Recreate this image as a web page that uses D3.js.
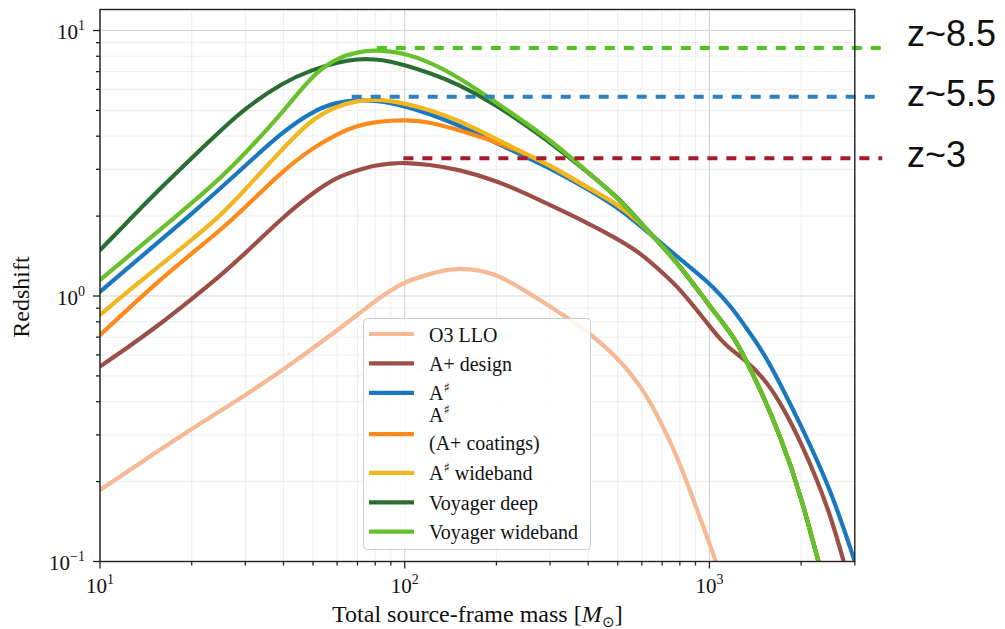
<!DOCTYPE html>
<html>
  <head>
    <meta charset="utf-8">
    <style>
      body { margin: 0; background: white; }
      svg { display: block; }
      .serif { font-family: "Liberation Serif", "Times New Roman", serif; fill: #111; }
      .sans { font-family: "Liberation Sans", Arial, sans-serif; fill: #111; }
    </style>
  </head>
  <body>
    <script src="https://cdn.jsdelivr.net/npm/d3@7"></script>
    <script>
      // total source-frame mass grid, shared by every curve
      var masses = [10, 12, 15, 20, 25, 30, 40, 50, 60, 70, 80, 90, 100, 120, 150, 200, 250, 300, 400, 500,
                    600, 700, 800, 1000, 1100, 1200, 1300, 1500, 1700, 2000, 2500, 3000];

      // redshift horizon per detector
      var o3LLO = [0.186, 0.214, 0.254, 0.316, 0.371, 0.423, 0.528, 0.636, 0.742, 0.850, 0.958, 1.05, 1.13, 1.21, 1.29, 1.22, 1.04, 0.916, 0.734, 0.586,
                   0.455, 0.329, 0.236, 0.117, 0.086, 0.062, null, null, null, null, null, null];
      var aPlusDesign = [0.542, 0.627, 0.751, 0.974, 1.20, 1.45, 1.99, 2.45, 2.81, 2.98, 3.11, 3.16, 3.18, 3.13, 3.00, 2.72, 2.43, 2.20, 1.88, 1.64,
                         1.44, 1.225, 1.067, 0.771, 0.674, 0.617, 0.579, 0.495, 0.402, 0.282, 0.154, 0.07];
      var aSharp = [1.038, 1.24, 1.543, 2.04, 2.56, 3.10, 4.18, 4.98, 5.38, 5.47, 5.45, 5.33, 5.19, 4.87, 4.41, 3.77, 3.34, 3.03, 2.53, 2.16,
                    1.82, 1.57, 1.38, 1.12, 0.993, 0.886, 0.778, 0.617, 0.471, 0.325, 0.1875, 0.10];
      var aSharpCoatings = [0.713, 0.865, 1.097, 1.448, 1.78, 2.16, 2.98, 3.62, 4.08, 4.39, 4.52, 4.58, 4.60, 4.54, 4.22, 3.80, 3.43, 3.11, 2.55, 2.22,
                            1.87, 1.54, 1.30, 0.92, 0.80, 0.70, 0.594, 0.422, 0.30, 0.18, 0.065, 0.04];
      var aSharpWideband = [0.848, 1.013, 1.248, 1.627, 2.02, 2.52, 3.62, 4.68, 5.19, 5.44, 5.50, 5.43, 5.31, 5.04, 4.60, 3.90, 3.43, 3.11, 2.55, 2.22,
                            1.87, 1.54, 1.30, 0.92, 0.80, 0.70, 0.594, 0.422, 0.30, 0.18, 0.065, 0.04];
      var voyagerDeep = [1.49, 1.844, 2.405, 3.31, 4.22, 5.10, 6.40, 7.13, 7.59, 7.82, 7.80, 7.64, 7.41, 6.95, 6.29, 5.24, 4.39, 3.79, 2.92, 2.36,
                         1.87, 1.54, 1.30, 0.92, 0.80, 0.70, 0.594, 0.422, 0.30, 0.18, 0.065, 0.04];
      var voyagerWideband = [1.149, 1.369, 1.696, 2.236, 2.80, 3.45, 4.95, 6.85, 7.88, 8.30, 8.45, 8.33, 8.19, 7.64, 6.68, 5.36, 4.48, 3.87, 2.93, 2.34,
                             1.87, 1.54, 1.30, 0.92, 0.80, 0.70, 0.594, 0.422, 0.30, 0.18, 0.065, 0.04];

      var seriesNames = [["O3 LLO"], ["A+ design"], ["A♯"], ["A♯", "(A+ coatings)"], ["A♯ wideband"], ["Voyager deep"], ["Voyager wideband"]];
      var seriesValues = [o3LLO, aPlusDesign, aSharp, aSharpCoatings, aSharpWideband, voyagerDeep, voyagerWideband];
      var seriesColors = ["#f7b993", "#9c4f47", "#1a78c0", "#fd8a1a", "#f0b71e", "#2b6e33", "#67c12c"];

      // peak redshift markers
      var peakZ = [8.6, 5.63, 3.3];
      var peakFrom = [81, 67, 99];
      var peakTo = 3690;
      var peakLabels = ["z~8.5", "z~5.5", "z~3"];
      var peakColors = ["#4fc41f", "#2d80c0", "#a8192e"];
      var peakLabelDy = [-2, 9, 9];

      var width = 1005, height = 629;
      var plot = { left: 100, right: 854.8, top: 9.5, bottom: 561.5 };

      var svg = d3.select("body")
        .append("svg")
        .attr("width", width)
        .attr("height", height);

      var x = d3.scaleLog().domain([10, 3000]).range([plot.left, plot.right]);
      var y = d3.scaleLog().domain([0.1, 12]).range([plot.bottom, plot.top]);

      var xMajor = [10, 100, 1000], yMajor = [0.1, 1, 10];
      var xMinor = [], yMinor = [];
      xMajor.forEach(function(d) { for (var k = 2; k <= 9; k++) if (d * k <= 3000) xMinor.push(d * k); });
      yMajor.forEach(function(d) { for (var k = 2; k <= 9; k++) if (d * k <= 12) yMinor.push(d * k); });

      // grid
      var grid = svg.append("g");
      grid.selectAll(".gx").data(xMinor).enter().append("line")
        .attr("x1", function(d) { return x(d); }).attr("x2", function(d) { return x(d); })
        .attr("y1", plot.top).attr("y2", plot.bottom)
        .attr("stroke", "#eeeeee").attr("stroke-width", 1);
      grid.selectAll(".gy").data(yMinor).enter().append("line")
        .attr("y1", function(d) { return y(d); }).attr("y2", function(d) { return y(d); })
        .attr("x1", plot.left).attr("x2", plot.right)
        .attr("stroke", "#eeeeee").attr("stroke-width", 1);
      grid.selectAll(".gX").data(xMajor).enter().append("line")
        .attr("x1", function(d) { return x(d); }).attr("x2", function(d) { return x(d); })
        .attr("y1", plot.top).attr("y2", plot.bottom)
        .attr("stroke", "#d4d4d4").attr("stroke-width", 1.2);
      grid.selectAll(".gY").data(yMajor).enter().append("line")
        .attr("y1", function(d) { return y(d); }).attr("y2", function(d) { return y(d); })
        .attr("x1", plot.left).attr("x2", plot.right)
        .attr("stroke", "#d4d4d4").attr("stroke-width", 1.2);

      svg.append("clipPath").attr("id", "clip")
        .append("rect")
        .attr("x", plot.left).attr("y", plot.top)
        .attr("width", plot.right - plot.left).attr("height", plot.bottom - plot.top);

      var line = d3.line()
        .defined(function(d) { return d[1] != null; })
        .x(function(d) { return x(d[0]); })
        .y(function(d) { return y(d[1]); })
        .curve(d3.curveBasis);

      svg.append("g")
        .attr("clip-path", "url(#clip)")
        .selectAll("path")
        .data(seriesValues)
        .enter()
        .append("path")
        .attr("d", function(vals) { return line(masses.map(function(m, i) { return [m, vals[i]]; })); })
        .attr("fill", "none")
        .attr("stroke", function(d, i) { return seriesColors[i]; })
        .attr("stroke-width", 4.2)
        .attr("stroke-linecap", "round");

      // dashed peak markers, they run out past the frame
      svg.append("g")
        .selectAll("line")
        .data(peakZ)
        .enter()
        .append("line")
        .attr("x1", function(d, i) { return x(peakFrom[i]); })
        .attr("x2", x(peakTo))
        .attr("y1", function(d) { return y(d); })
        .attr("y2", function(d) { return y(d); })
        .attr("stroke", function(d, i) { return peakColors[i]; })
        .attr("stroke-width", 4)
        .attr("stroke-dasharray", "10,9");

      svg.append("g")
        .selectAll("text")
        .data(peakZ)
        .enter()
        .append("text")
        .attr("class", "sans")
        .attr("x", 907)
        .attr("y", function(d, i) { return y(d) + peakLabelDy[i]; })
        .style("font-size", "36px")
        .text(function(d, i) { return peakLabels[i]; });

      // frame
      svg.append("rect")
        .attr("x", plot.left).attr("y", plot.top)
        .attr("width", plot.right - plot.left).attr("height", plot.bottom - plot.top)
        .attr("fill", "none").attr("stroke", "#222").attr("stroke-width", 1.4);

      // ticks
      var ticks = svg.append("g").attr("stroke", "#222").attr("stroke-width", 1.3);
      ticks.selectAll(".tx").data(xMajor.concat(xMinor)).enter().append("line")
        .attr("x1", function(d) { return x(d); }).attr("x2", function(d) { return x(d); })
        .attr("y1", plot.bottom)
        .attr("y2", function(d) { return plot.bottom + (xMajor.indexOf(d) >= 0 ? 7 : 4); });
      ticks.selectAll(".ty").data(yMajor.concat(yMinor)).enter().append("line")
        .attr("y1", function(d) { return y(d); }).attr("y2", function(d) { return y(d); })
        .attr("x1", plot.left)
        .attr("x2", function(d) { return plot.left - (yMajor.indexOf(d) >= 0 ? 7 : 4); });

      function powLabel(sel) {
        sel.append("tspan").text("10");
        sel.append("tspan")
          .attr("dy", -9)
          .style("font-size", "14px")
          .text(function(d) { return String(Math.round(Math.log10(d))).replace("-", "\u2212"); });
      }

      svg.append("g").selectAll("text").data(xMajor).enter().append("text")
        .attr("class", "serif")
        .attr("x", function(d) { return x(d); })
        .attr("y", 593)
        .attr("text-anchor", "middle")
        .style("font-size", "21px")
        .call(powLabel);

      svg.append("g").selectAll("text").data(yMajor).enter().append("text")
        .attr("class", "serif")
        .attr("x", 85)
        .attr("y", function(d) { return y(d) + 8.5; })
        .attr("text-anchor", "end")
        .style("font-size", "21px")
        .call(powLabel);

      // axis titles
      var xt = svg.append("text")
        .attr("class", "serif")
        .attr("x", (plot.left + plot.right) / 2)
        .attr("y", 622)
        .attr("text-anchor", "middle")
        .style("font-size", "24px");
      xt.append("tspan").text("Total source-frame mass [");
      xt.append("tspan").style("font-style", "italic").text("M");
      xt.append("tspan").attr("dy", 5).style("font-size", "15px").text("\u2299");
      xt.append("tspan").attr("dy", -5).text("]");

      svg.append("text")
        .attr("class", "serif")
        .attr("transform", "translate(29,297) rotate(-90)")
        .attr("text-anchor", "middle")
        .style("font-size", "24px")
        .text("Redshift");

      // legend
      var legend = svg.append("g");
      legend.append("rect")
        .attr("x", 363.5).attr("y", 318.5)
        .attr("width", 227).attr("height", 231)
        .attr("rx", 4)
        .attr("fill", "white").attr("fill-opacity", 0.85)
        .attr("stroke", "#cccccc").attr("stroke-width", 1);

      var rowY = [], cy = 334;
      seriesNames.forEach(function(n, i) {
        if (n.length > 1) cy += 12;
        rowY.push(cy);
        cy += (n.length > 1 ? 38.7 : 29.4);
      });

      var rows = legend.selectAll(".row").data(seriesNames).enter().append("g");
      rows.append("line")
        .attr("x1", 369).attr("x2", 414)
        .attr("y1", function(d, i) { return rowY[i]; })
        .attr("y2", function(d, i) { return rowY[i]; })
        .attr("stroke", function(d, i) { return seriesColors[i]; })
        .attr("stroke-width", 4.2);

      rows.each(function(lines, i) {
        var g = d3.select(this);
        lines.forEach(function(txt, j) {
          var base = lines.length > 1 ? rowY[i] - 12.5 + j * 28.5 : rowY[i] + 7.5;
          var t = g.append("text")
            .attr("class", "serif")
            .attr("x", 429)
            .attr("y", base)
            .style("font-size", "20px");
          var parts = txt.split("♯");
          t.append("tspan").text(parts[0]);
          if (parts.length > 1) {
            t.append("tspan").attr("dy", -8).style("font-size", "13px")
              .style("font-family", "'DejaVu Sans', sans-serif").text("\u266F");
            t.append("tspan").attr("dy", 8).text(parts[1]);
          }
        });
      });
    </script>
  </body>
</html>
